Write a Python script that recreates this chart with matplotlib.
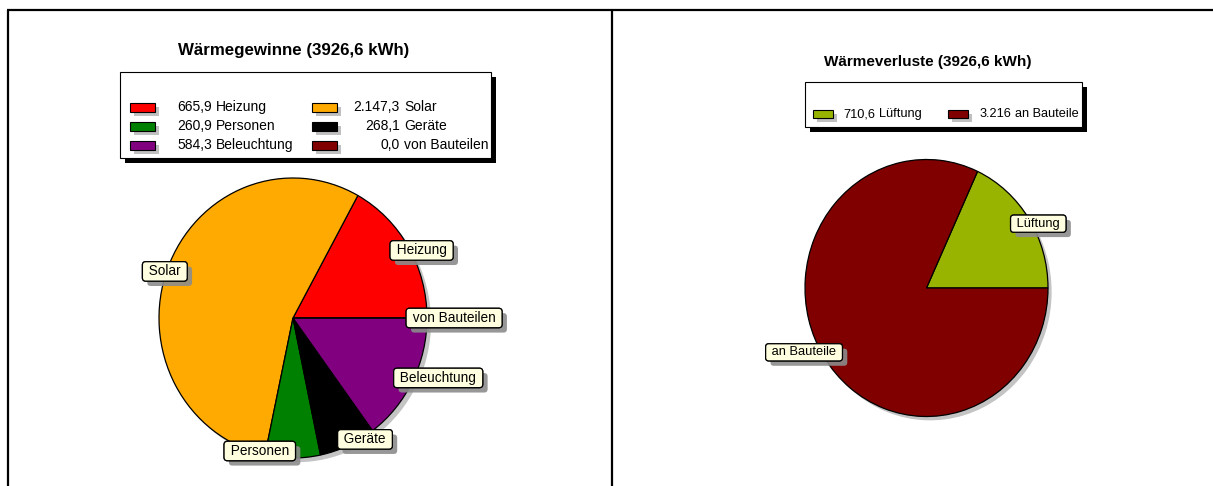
import matplotlib
matplotlib.use("Agg")
import matplotlib.pyplot as plt
import matplotlib.patheffects as pe
from matplotlib.patches import Rectangle

plt.rcParams['font.family'] = ['Liberation Sans', 'DejaVu Sans']

W, H = 1213, 486

# Wärmegewinne
gain_title = "Wärmegewinne (3926,6 kWh)"
gain_names = ["Heizung", "Solar", "Personen", "Geräte", "Beleuchtung", "von Bauteilen"]
gain_values = [665.9, 2147.3, 260.9, 268.1, 584.3, 0.0]
gain_value_text = ["665,9", "2.147,3", "260,9", "268,1", "584,3", "0,0"]
gain_colors = ["#ff0000", "#ffaa00", "#008000", "#000000", "#800080", "#800000"]

# Wärmeverluste
loss_title = "Wärmeverluste (3926,6 kWh)"
loss_names = ["Lüftung", "an Bauteile"]
loss_values = [710.6, 3216.0]
loss_value_text = ["710,6", "3.216"]
loss_colors = ["#99b400", "#800000"]

fig = plt.figure(figsize=(W / 100, H / 100), dpi=100)

# overlay in pixel coords for frame, titles and legends
ov = fig.add_axes([0, 0, 1, 1])
ov.set_xlim(0, W)
ov.set_ylim(H, 0)
ov.axis('off')

lw = 1.6
ov.plot([7, W], [10, 10], color='black', lw=lw, solid_capstyle='butt')
ov.plot([8, 8], [10, H], color='black', lw=lw, solid_capstyle='butt')
ov.plot([612, 612], [10, H], color='black', lw=lw, solid_capstyle='butt')


def draw_legend(names, value_text, colors, box, rows_y, sw_x, num_x, sw_w, sw_h, fs, ncol):
    x0, y0, x1, y1 = box
    ov.add_patch(Rectangle((x0 + 5, y0 + 5), x1 - x0, y1 - y0, fc='black', ec='none'))
    ov.add_patch(Rectangle((x0, y0), x1 - x0, y1 - y0, fc='white', ec='black', lw=0.8))
    for i, (n, v, c) in enumerate(zip(names, value_text, colors)):
        r, k = i // ncol, i % ncol
        y = rows_y[r]
        ov.add_patch(Rectangle((sw_x[k] + 4, y - sw_h / 2 + 4), sw_w, sw_h, fc='#c0c0c0', ec='none'))
        ov.add_patch(Rectangle((sw_x[k], y - sw_h / 2), sw_w, sw_h, fc=c, ec='black', lw=0.8))
        ov.text(num_x[k], y, v, ha='right', va='center', fontsize=fs)
        ov.text(num_x[k] + 4, y, n, ha='left', va='center', fontsize=fs)


def draw_pie(cx, cy, rx, ry, values, colors, names, fs, dist):
    hw, hh = 1.6, 1.2
    ax = fig.add_axes([(cx - hw * rx) / W, (H - cy - hh * ry) / H,
                       2 * hw * rx / W, 2 * hh * ry / H])
    # shadow
    ax.pie(values, colors=['#c4c4c4'] * len(values), startangle=0,
           center=(0.03, -0.03), wedgeprops=dict(linewidth=0))
    wedges, texts = ax.pie(values, colors=colors, startangle=0,
                           labels=[' %s ' % n for n in names], labeldistance=dist,
                           wedgeprops=dict(edgecolor='black', linewidth=0.9),
                           textprops=dict(fontsize=fs))
    ax.set_aspect('auto')
    ax.set_xlim(-hw, hw)
    ax.set_ylim(-hh, hh)
    ax.axis('off')
    for t in texts:
        x, y = t.get_position()
        t.set_position((x * 0.91, y))   # labels sit a bit closer in
        t.set_bbox(dict(boxstyle='round,pad=0.2,rounding_size=0.25',
                        fc='#ffffe0', ec='black', lw=0.9))
        t.get_bbox_patch().set_path_effects([
            pe.withSimplePatchShadow(offset=(3.5, -3.5), shadow_rgbFace='#8c8c8c', alpha=0.9),
            pe.Normal()])
    return ax


# left chart
ov.text(294, 51, gain_title, ha='center', va='center', fontsize=12.2, fontweight='bold')
draw_legend(gain_names, gain_value_text, gain_colors, (120, 72, 491, 158),
            [107, 126, 145], [130, 312], [212, 400], 25, 9, 10, 2)
draw_pie(293, 318, 134, 140, gain_values, gain_colors, gain_names, 9.8, 0.95)

# right chart
ov.text(928, 62, loss_title, ha='center', va='center', fontsize=11, fontweight='bold')
draw_legend(loss_names, loss_value_text, loss_colors, (805, 82, 1082, 127),
            [114], [813, 948], [875, 1011], 20, 8, 9.2, 2)
draw_pie(926.5, 288, 121.5, 128.5, loss_values, loss_colors, loss_names, 9.3, 0.93)

fig.savefig("out.png", dpi=100)
